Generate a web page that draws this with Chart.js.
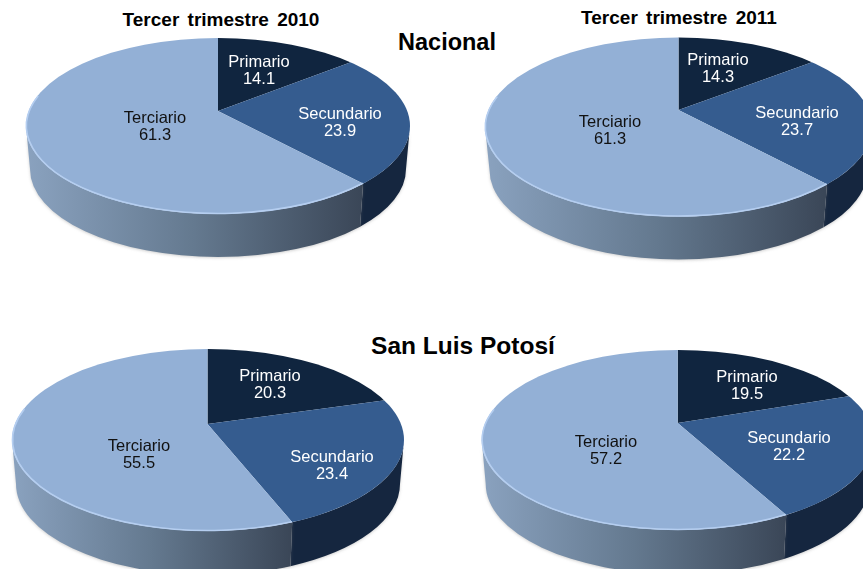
<!DOCTYPE html>
<html lang="es">
<head>
<meta charset="utf-8">
<title>Tercer trimestre</title>
<script src="https://cdn.jsdelivr.net/npm/chart.js@4/dist/chart.umd.min.js"></script>
<style>
html,body{margin:0;padding:0;background:#fff;width:863px;height:569px;overflow:hidden;font-family:"Liberation Sans",Arial,sans-serif}
canvas{position:absolute;display:block}
.t{position:absolute;font-weight:bold;color:#000;white-space:nowrap;transform:translate(-50%,-50%);line-height:1}
.sub{font-size:19px;word-spacing:3px}
.head{font-size:23.5px}
</style>
</head>
<body>
<div class="t sub" style="left:221px;top:19px">Tercer trimestre 2010</div>
<div class="t sub" style="left:679px;top:17px">Tercer trimestre 2011</div>
<div class="t head" style="left:447px;top:43px">Nacional</div>
<div class="t head" style="left:463px;top:346px;font-size:24.5px">San Luis Potosí</div>
<canvas id="c0" width="431" height="285" style="left:0;top:0"></canvas>
<canvas id="c1" width="432" height="285" style="left:431px;top:0"></canvas>
<canvas id="c2" width="431" height="284" style="left:0;top:285px"></canvas>
<canvas id="c3" width="432" height="284" style="left:431px;top:285px"></canvas>
<script>
const categories = ["Primario", "Secundario", "Terciario"];
const nacional2010 = [14.1, 23.9, 61.3];
const nacional2011 = [14.3, 23.7, 61.3];
const slp2010 = [20.3, 23.4, 55.5];
const slp2011 = [19.5, 22.2, 57.2];
const sliceColors = ["#10253F", "#355C8F", "#93B0D6"];
const labelColors = ["#FFFFFF", "#FFFFFF", "#111111"];

// Panel layout in page pixels: apex, top-face ellipse, wall ellipse, label anchors.
const panels = [
  {id:"c0", ox:0, oy:0, values:nacional2010, apex:[218,111], cx:218, cy:126, rx:192, ry:88, brx:188, bcy:169,
   labels:[[259,62],[340,114],[155,118]]},
  {id:"c1", ox:431, oy:0, values:nacional2011, apex:[678.5,110], cx:678.5, cy:127, rx:193.5, ry:89.5, brx:189, bcy:170,
   labels:[[718,60],[797,113],[610,122]]},
  {id:"c2", ox:0, oy:285, values:slp2010, apex:[207.5,424], cx:208, cy:440, rx:196, ry:91, brx:192, bcy:484,
   labels:[[270,376],[332,457],[139,446]]},
  {id:"c3", ox:431, oy:285, values:slp2011, apex:[677.7,423], cx:677.7, cy:440, rx:196, ry:90, brx:192, bcy:484,
   labels:[[747,377],[789,438],[606,442]]}
];
const ASPECT = 2.2;

function rimAngle(p, a, sx, sy){
  const ax=p.apex[0]-p.cx, ay=p.apex[1]-p.cy;
  const dx=sx*Math.cos(a)/p.rx, dy=sy*Math.sin(a)/p.ry;
  const ex=ax/p.rx, ey=ay/p.ry;
  const A=dx*dx+dy*dy, B=2*(ex*dx+ey*dy), C=ex*ex+ey*ey-1;
  const s=(-B+Math.sqrt(B*B-4*A*C))/(2*A);
  return Math.atan2(ey+dy*s, ex+dx*s);
}

const pie3d = {
  id:"pie3d",
  beforeDatasetsDraw(chart){
    const p=chart.options.plugins.pie3d.panel, ctx=chart.ctx;
    const arcs=chart.getDatasetMeta(0).data, R=arcs[0].outerRadius;
    const sy=125/R, sx=sy*ASPECT;
    p._rim=arcs.map(a=>[rimAngle(p,a.startAngle,sx,sy),rimAngle(p,a.endAngle,sx,sy)]);
    const cx=p.cx-p.ox, cy=p.cy-p.oy, bcy=p.bcy-p.oy;
    // side wall, one piece per slice, from each arc's own angles
    p._rim.forEach((r,i)=>{
      let t1=r[0]; if(t1<0) t1+=2*Math.PI;
      let t2=r[1]; while(t2<=t1) t2+=2*Math.PI;
      [0,2*Math.PI].forEach(base=>{
        const a=Math.max(t1,base), b=Math.min(t2,base+Math.PI);
        if(b<=a) return;
        ctx.save();
        ctx.beginPath();
        ctx.ellipse(cx,cy,p.rx,p.ry,0,a,b);
        ctx.ellipse(cx,bcy,p.brx,p.ry,0,b,a,true);
        ctx.closePath();
        if(i===2){
          const xl=cx-p.rx, xr=cx+p.rx*Math.cos(a);
          const g=ctx.createLinearGradient(xl,0,xr,0);
          g.addColorStop(0,"#8AA2BF");
          g.addColorStop(0.5,"#64798F");
          g.addColorStop(1,"#3A4657");
          ctx.fillStyle=g;
        } else ctx.fillStyle="#15263F";
        ctx.shadowColor="rgba(120,120,120,0.35)";
        ctx.shadowBlur=3;
        ctx.shadowOffsetY=1;
        ctx.fill();
        ctx.restore();
      });
    });
    // top face: library arcs, clipped to the tilted ellipse
    ctx.save();
    ctx.beginPath();
    ctx.ellipse(cx,cy,p.rx,p.ry,0,0,2*Math.PI);
    ctx.clip();
    ctx.translate(p.apex[0]-p.ox,p.apex[1]-p.oy);
    ctx.scale(sx,sy);
    ctx.translate(-arcs[0].x,-arcs[0].y);
  },
  afterDatasetsDraw(chart){
    const p=chart.options.plugins.pie3d.panel, ctx=chart.ctx;
    ctx.restore();
    const cx=p.cx-p.ox, cy=p.cy-p.oy;
    // light rim along the front of the lightest slice
    let t1=p._rim[2][0]; if(t1<0) t1+=2*Math.PI;
    ctx.save();
    ctx.beginPath();
    ctx.ellipse(cx,cy,p.rx-0.5,p.ry-0.5,0,t1,Math.PI+0.35);
    ctx.strokeStyle="#B5CEF0";
    ctx.lineWidth=1.6;
    ctx.stroke();
    ctx.restore();
    // text labels
    ctx.save();
    ctx.font='16.5px "Liberation Sans", Arial, sans-serif';
    ctx.textAlign="center";
    ctx.textBaseline="middle";
    p.labels.forEach((l,i)=>{
      ctx.fillStyle=labelColors[i];
      ctx.fillText(categories[i],l[0]-p.ox,l[1]-p.oy);
      ctx.fillText(p.values[i].toFixed(1),l[0]-p.ox,l[1]-p.oy+17.5);
    });
    ctx.restore();
  }
};

panels.forEach(p=>{
  new Chart(document.getElementById(p.id),{
    type:"pie",
    data:{labels:categories,datasets:[{data:p.values,backgroundColor:sliceColors,borderWidth:0,clip:false}]},
    options:{
      responsive:false,
      animation:false,
      layout:{padding:0},
      plugins:{legend:{display:false},tooltip:{enabled:false},title:{display:false},pie3d:{panel:p}}
    },
    plugins:[pie3d]
  });
});
</script>
</body>
</html>
